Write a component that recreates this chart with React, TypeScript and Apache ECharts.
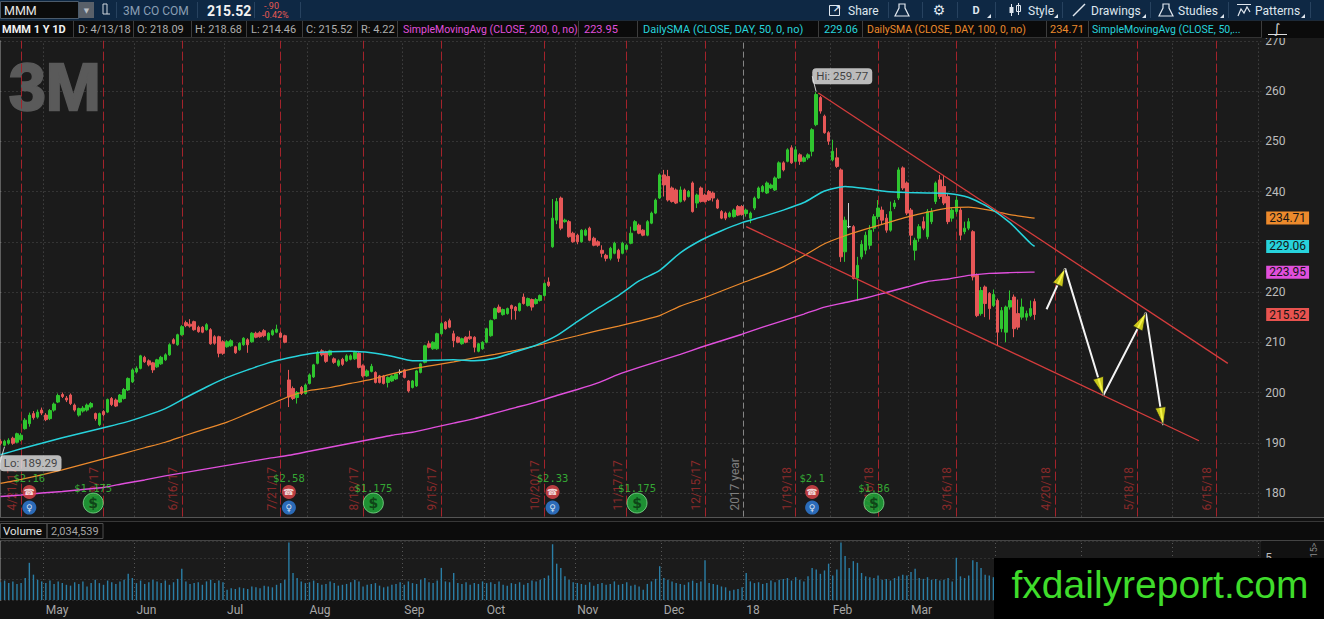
import React, { useEffect, useRef } from "react";
import * as echarts from "echarts";

// ---------- calendar (trading days) ----------
const FIRST_DAY = "2017-04-13";
const DAY_COUNT = 307;
const HOLIDAYS = ["2017-04-14", "2017-05-29", "2017-07-04", "2017-09-04", "2017-11-23", "2017-12-25", "2018-01-01", "2018-01-15", "2018-02-19", "2018-03-30", "2018-05-28"];
const MONTH_NAMES = ["Jan", "Feb", "Mar", "Apr", "May", "Jun", "Jul", "Aug", "Sep", "Oct", "Nov", "Dec"];

// ---------- daily candles [open, close, low, high] ----------
const apr17 = [
  [190.3, 189.9, 189.5, 190.7], [189.5, 190.3, 189.29, 190.6], [189.9, 190.5, 189.6, 190.9], [190.9, 189.9, 189.6, 191.2],
  [190.1, 191.8, 189.9, 192.0], [190.6, 191.5, 190.3, 191.9], [192.8, 194.5, 192.6, 194.9], [193.8, 195.5, 193.2, 196.0],
  [195.8, 195.0, 194.6, 196.3], [195.1, 196.1, 194.8, 196.6], [196.5, 195.9, 195.5, 197.0],
];
const may17 = [
  [195.5, 194.6, 194.3, 195.9], [194.8, 196.4, 194.5, 196.7], [196.5, 197.7, 196.2, 198.0], [198.1, 199.4, 197.9, 199.8],
  [199.6, 199.2, 198.9, 200.0], [198.9, 198.5, 198.1, 199.3], [199.5, 197.8, 197.5, 199.8], [197.5, 196.5, 196.2, 197.8],
  [195.5, 196.8, 195.2, 197.0], [196.3, 196.9, 196.0, 197.3], [196.5, 197.5, 196.2, 197.8], [197.1, 197.8, 196.8, 198.1],
  [195.8, 194.8, 194.4, 196.0], [193.6, 195.8, 193.3, 196.0], [196.2, 195.6, 195.3, 196.5], [196.1, 198.6, 195.9, 198.8],
  [198.8, 197.6, 197.3, 199.1], [198.5, 197.3, 197.1, 198.8], [198.1, 199.5, 197.9, 199.7], [198.8, 200.6, 198.6, 200.9],
  [200.5, 202.8, 200.3, 203.0], [202.1, 204.5, 201.9, 204.8],
];
const jun17 = [
  [204.1, 204.8, 203.8, 205.2], [204.8, 207.3, 204.6, 207.5], [207.0, 206.1, 205.9, 207.3], [206.3, 205.5, 205.2, 206.6],
  [205.9, 204.5, 203.9, 206.1], [205.1, 206.5, 204.9, 206.7], [205.7, 207.0, 205.5, 207.3], [206.5, 207.5, 206.3, 207.8],
  [207.5, 209.5, 207.3, 209.8], [210.5, 209.8, 209.6, 210.8], [209.5, 211.5, 209.3, 211.7], [211.5, 213.1, 211.3, 213.4],
  [213.9, 213.3, 213.0, 214.3], [213.6, 213.2, 212.9, 214.6], [214.1, 212.5, 212.3, 214.3], [213.0, 212.1, 211.9, 213.3],
  [213.0, 212.0, 211.8, 213.2], [212.5, 213.5, 212.3, 213.8], [212.5, 209.7, 209.5, 212.8], [211.1, 209.8, 209.5, 211.4],
  [211.1, 207.8, 207.0, 211.3], [210.1, 207.8, 207.5, 210.4],
];
const jul17 = [
  [209.1, 210.1, 208.9, 210.4], [209.3, 210.3, 209.1, 210.6], [209.1, 207.9, 207.7, 209.3], [208.5, 209.8, 208.3, 210.0],
  [209.5, 210.8, 209.3, 211.0], [210.5, 209.5, 207.9, 210.8], [210.1, 211.8, 209.9, 212.0], [211.8, 211.0, 210.8, 212.1],
  [211.9, 211.1, 210.9, 212.2], [212.3, 211.3, 211.0, 212.6], [210.5, 211.8, 210.3, 212.0], [211.5, 212.3, 211.3, 212.6],
  [212.0, 212.6, 211.8, 213.5], [211.8, 211.0, 210.8, 212.1], [211.3, 210.0, 209.8, 211.5], [202.5, 199.1, 197.1, 204.5],
  [200.8, 198.8, 198.5, 201.2], [199.0, 200.0, 197.8, 200.3], [201.0, 199.8, 199.5, 201.3], [199.8, 201.5, 199.6, 201.8],
];
const aug17 = [
  [201.8, 203.5, 201.6, 203.8], [203.1, 205.5, 202.9, 205.7], [205.8, 208.0, 205.6, 208.3], [208.3, 207.5, 207.2, 208.6],
  [208.1, 206.2, 205.9, 208.3], [207.5, 208.3, 207.2, 208.5], [206.7, 206.0, 205.7, 207.0], [205.4, 206.3, 205.1, 206.6],
  [206.6, 205.6, 205.3, 206.9], [206.3, 207.3, 206.1, 207.6], [206.6, 207.3, 206.4, 207.6], [206.7, 208.0, 206.5, 208.3],
  [207.8, 205.0, 204.8, 208.0], [205.3, 203.3, 203.0, 205.6], [203.3, 204.3, 203.1, 204.6], [204.2, 205.2, 204.0, 205.7],
  [204.0, 202.0, 201.8, 204.2], [203.3, 202.0, 201.8, 203.5], [203.3, 201.8, 201.6, 203.5], [202.0, 203.0, 201.0, 203.2],
  [202.3, 203.3, 202.1, 203.5], [202.7, 203.7, 202.5, 203.9], [204.0, 204.0, 203.6, 204.6],
];
const sep17 = [
  [204.5, 203.0, 202.8, 204.7], [202.3, 200.3, 200.0, 202.5], [201.0, 202.3, 200.8, 202.5], [201.3, 204.3, 201.1, 204.5],
  [204.0, 205.7, 203.8, 205.9], [206.0, 209.3, 205.8, 209.5], [209.7, 209.0, 208.8, 210.3], [208.7, 210.0, 208.5, 210.2],
  [208.7, 211.7, 208.5, 211.9], [211.7, 213.7, 211.5, 214.0], [214.0, 212.7, 212.5, 214.2], [214.3, 213.0, 212.8, 214.7],
  [211.7, 210.3, 209.0, 212.3], [211.0, 210.0, 209.8, 211.2], [209.7, 210.7, 209.5, 210.9], [211.0, 210.0, 209.8, 211.2],
  [211.1, 210.7, 210.5, 212.3], [211.0, 209.0, 208.0, 211.2], [208.2, 209.7, 208.0, 209.9], [208.7, 210.0, 208.5, 210.2],
];
const oct17 = [
  [210.0, 212.7, 209.8, 212.9], [211.3, 214.3, 211.1, 214.5], [214.7, 216.7, 214.5, 216.9], [217.0, 216.0, 215.8, 217.5],
  [215.5, 216.5, 215.3, 216.7], [215.7, 216.7, 215.5, 216.9], [217.3, 216.7, 214.5, 217.5], [217.0, 216.3, 214.5, 217.2],
  [216.3, 217.7, 216.1, 217.9], [219.0, 217.7, 217.5, 219.7], [217.3, 218.7, 217.1, 218.9], [218.5, 217.0, 216.3, 218.7],
  [217.7, 218.5, 217.5, 218.8], [218.3, 219.3, 218.1, 219.5], [219.3, 221.7, 219.1, 221.9], [222.0, 221.3, 221.0, 222.9],
  [229.0, 234.7, 228.8, 238.5], [234.3, 238.0, 233.5, 238.7], [238.7, 232.7, 232.3, 239.0], [234.0, 234.3, 233.8, 234.6],
  [234.0, 231.0, 230.8, 234.3], [231.7, 230.0, 229.8, 232.0],
];
const nov17 = [
  [231.3, 230.0, 229.5, 231.6], [230.0, 232.3, 229.8, 232.5], [231.3, 232.3, 231.1, 232.6], [232.7, 230.3, 230.1, 233.0],
  [230.7, 229.3, 229.1, 231.0], [230.0, 229.3, 229.0, 230.3], [228.3, 227.7, 226.9, 229.3], [227.3, 226.7, 226.1, 227.6],
  [226.7, 228.7, 226.3, 229.0], [227.7, 229.7, 227.5, 230.0], [228.3, 226.7, 226.0, 228.6], [227.7, 229.7, 227.5, 230.0],
  [228.5, 229.3, 228.3, 229.6], [229.7, 231.7, 229.5, 233.0], [232.3, 234.0, 232.1, 234.3], [233.3, 231.7, 231.5, 233.6],
  [232.3, 231.3, 231.1, 232.5], [231.3, 234.0, 231.1, 234.3], [233.7, 235.7, 233.5, 236.0], [235.7, 238.3, 235.5, 238.6],
  [238.7, 243.3, 238.5, 243.6],
];
const dec17 = [
  [243.3, 241.3, 239.0, 244.3], [243.0, 238.3, 238.0, 244.3], [240.7, 238.0, 237.8, 241.0], [240.3, 237.7, 237.5, 240.6],
  [238.0, 240.3, 237.8, 241.0], [240.3, 238.3, 238.0, 240.6], [239.0, 240.0, 238.8, 240.3], [241.7, 236.0, 235.8, 242.0],
  [237.7, 239.3, 236.7, 239.6], [240.7, 238.0, 237.8, 241.0], [239.3, 238.0, 237.8, 239.6], [240.0, 238.3, 238.1, 240.3],
  [239.7, 238.7, 238.0, 240.0], [238.3, 236.7, 236.5, 238.6], [236.0, 234.7, 234.5, 236.3], [235.7, 234.7, 234.3, 236.0],
  [235.0, 235.7, 234.8, 236.0], [235.0, 236.3, 234.8, 236.6], [237.0, 235.3, 235.1, 237.3], [237.0, 235.4, 235.2, 237.3],
];
const jan18 = [
  [235.6, 236.3, 235.0, 236.6], [234.7, 235.7, 233.7, 236.0], [236.7, 238.7, 236.3, 239.0], [238.7, 240.7, 238.5, 241.0],
  [240.0, 241.0, 239.8, 241.3], [239.7, 241.7, 239.5, 242.0], [240.7, 241.3, 240.5, 241.6], [240.3, 242.7, 240.1, 243.0],
  [242.7, 245.7, 242.5, 246.0], [245.7, 244.3, 244.0, 246.0], [246.0, 248.3, 245.8, 248.6], [248.7, 245.7, 245.5, 249.2],
  [246.0, 248.3, 245.8, 249.0], [247.3, 246.0, 245.3, 247.6], [246.0, 246.7, 245.8, 247.0], [246.7, 247.3, 246.3, 247.6],
  [248.0, 252.3, 247.0, 252.6], [253.3, 259.3, 253.0, 259.77], [258.7, 256.0, 255.5, 259.0], [255.0, 251.7, 251.5, 255.3],
  [251.7, 250.0, 249.3, 252.0],
];
const feb18 = [
  [246.3, 248.0, 246.0, 250.3], [246.7, 245.0, 244.7, 248.7], [244.3, 227.0, 226.0, 244.6], [228.0, 234.3, 226.0, 235.0],
  [233.0, 233.0, 232.7, 237.7], [233.0, 222.7, 222.5, 233.3], [222.8, 225.3, 218.2, 227.0], [227.0, 229.5, 226.5, 230.3],
  [228.3, 231.3, 227.5, 232.0], [229.3, 232.3, 228.5, 233.3], [232.7, 235.0, 232.0, 235.5], [235.0, 236.7, 234.5, 238.3],
  [236.3, 234.3, 233.5, 237.0], [234.7, 232.3, 231.8, 235.5], [232.3, 236.0, 232.0, 238.0], [237.0, 237.7, 236.5, 238.3],
  [238.7, 244.3, 238.3, 244.8], [244.7, 240.7, 240.3, 245.0], [241.7, 235.7, 235.3, 242.0],
];
const mar18 = [
  [236.3, 231.3, 229.3, 236.7], [228.3, 230.3, 226.3, 230.8], [230.7, 233.0, 230.0, 233.5], [234.0, 232.7, 232.3, 235.0],
  [231.0, 236.0, 230.5, 236.5], [234.0, 236.0, 233.5, 236.7], [238.0, 241.7, 237.5, 242.0], [242.3, 239.0, 238.5, 243.3],
  [241.0, 237.7, 237.3, 243.3], [239.0, 234.0, 233.5, 239.5], [234.7, 236.3, 234.0, 236.7], [236.0, 238.3, 235.5, 239.0],
  [236.3, 231.3, 230.3, 236.7], [232.0, 232.7, 231.5, 234.0], [232.7, 234.0, 232.3, 234.7], [232.0, 223.0, 222.3, 232.3],
  [223.3, 215.3, 215.0, 223.7], [215.7, 220.3, 215.3, 221.0], [221.0, 217.7, 215.0, 221.3], [219.7, 216.7, 214.5, 220.0],
  [217.3, 219.5, 217.0, 220.5],
];
const apr18 = [
  [218.3, 212.0, 209.3, 218.7], [212.7, 216.3, 212.0, 217.0], [212.0, 217.0, 210.0, 217.3], [217.0, 218.3, 216.5, 220.3],
  [219.0, 212.7, 211.0, 219.5], [215.7, 213.0, 212.5, 218.5], [215.0, 217.0, 214.5, 218.7], [215.0, 215.7, 214.3, 216.3],
  [215.3, 216.7, 215.0, 218.3], [218.09, 215.52, 214.46, 218.68],
];

// ---------- daily volume (millions of shares) ----------
const volApr17 = [2.1, 2.3, 2.0, 2.2, 1.9, 2.0, 2.6, 4.4, 3.0, 2.4, 2.2];
const volMay17 = [2.0, 2.3, 1.9, 2.2, 2.0, 1.8, 1.7, 2.1, 1.9, 2.2, 1.6, 2.0, 2.4, 2.0, 1.8, 2.3, 2.1, 1.9, 2.2, 2.4, 3.1, 2.6];
const volJun17 = [2.0, 2.3, 1.9, 2.1, 2.4, 2.2, 2.0, 2.3, 1.8, 2.1, 2.5, 3.7, 2.2, 1.9, 2.0, 2.1, 1.8, 2.2, 2.4, 2.0, 2.3, 2.1];
const volJul17 = [1.2, 1.4, 1.3, 1.5, 1.4, 1.3, 1.6, 1.5, 1.4, 1.7, 1.6, 1.5, 1.8, 2.0, 2.4, 6.8, 3.2, 2.6, 2.2, 2.0];
const volAug17 = [2.1, 2.3, 2.0, 1.8, 1.9, 2.2, 2.0, 1.7, 1.8, 1.9, 2.1, 2.4, 2.2, 1.6, 1.8, 1.9, 2.0, 1.7, 1.5, 1.6, 1.8, 1.9, 2.1];
const volSep17 = [1.8, 2.2, 2.0, 1.9, 2.4, 2.6, 2.1, 2.0, 2.3, 3.8, 2.2, 2.1, 3.2, 2.0, 1.9, 2.1, 1.8, 2.0, 1.9, 2.2];
const volOct17 = [2.0, 2.1, 1.9, 2.2, 1.8, 1.7, 2.0, 1.9, 2.1, 1.8, 2.0, 2.3, 2.2, 2.4, 2.6, 2.9, 6.6, 4.3, 3.8, 2.8, 2.4, 2.1];
const volNov17 = [2.0, 1.9, 1.8, 2.1, 1.7, 1.9, 2.0, 1.8, 1.9, 2.2, 1.8, 1.9, 2.1, 1.7, 1.8, 1.6, 1.2, 1.9, 2.2, 2.5, 4.0];
const volDec17 = [2.6, 2.4, 2.2, 2.0, 1.9, 1.8, 2.1, 2.3, 2.0, 2.2, 4.7, 2.0, 1.9, 1.8, 1.6, 1.5, 1.1, 1.2, 1.3, 1.5];
const volJan18 = [3.2, 2.2, 2.0, 2.1, 1.9, 2.0, 2.3, 2.1, 2.4, 2.5, 2.6, 2.3, 2.7, 2.4, 2.2, 2.8, 3.8, 3.6, 3.1, 3.5, 4.3];
const volFeb18 = [2.9, 3.6, 6.8, 5.2, 3.8, 4.6, 4.4, 3.2, 2.8, 2.7, 2.6, 2.9, 2.4, 2.5, 2.3, 2.6, 2.8, 3.0, 2.9];
const volMar18 = [3.3, 3.7, 2.6, 2.5, 2.7, 2.4, 2.5, 2.3, 2.4, 2.6, 2.2, 5.0, 2.8, 2.6, 2.9, 4.7, 4.5, 3.8, 3.0, 2.9, 2.7];
const volApr18 = [3.1, 2.9, 3.2, 2.6, 2.8, 2.5, 2.4, 2.2, 2.1, 2.03];

// ---------- moving averages, read every 5 sessions (session index) ----------
const maIdx = [0, 5, 10, 15, 20, 25, 30, 35, 40, 45, 50, 55, 60, 65, 70, 75, 80, 85, 90, 95, 100, 105, 110, 115, 120, 125, 130, 135, 140, 145, 150, 155, 160, 165, 170, 175, 180, 185, 190, 195, 200, 205, 210, 215, 220, 225, 230, 235, 240, 245, 250, 251];
const sma50 = [187.6, 188.8, 189.9, 191.0, 192.0, 193.0, 194.0, 195.3, 196.8, 199.0, 201.1, 203.0, 204.5, 205.9, 206.9, 207.7, 208.1, 208.2, 207.9, 207.2, 206.3, 206.4, 206.5, 206.3, 206.8, 208.1, 209.4, 211.3, 214.1, 216.8, 219.3, 222.2, 224.3, 227.8, 230.3, 232.2, 233.8, 235.0, 236.3, 237.8, 240.1, 241.0, 240.6, 240.0, 239.8, 239.7, 239.6, 238.8, 236.8, 233.8, 229.7, 229.06];
const sma100 = [181.9, 182.7, 183.6, 184.6, 185.7, 186.8, 187.9, 189.0, 190.1, 191.5, 192.8, 194.1, 195.8, 197.5, 199.2, 200.4, 201.0, 201.8, 202.6, 203.7, 204.7, 205.4, 206.1, 206.9, 207.6, 208.4, 209.3, 210.3, 211.3, 212.3, 213.2, 214.2, 215.3, 217.2, 218.6, 220.2, 221.8, 223.3, 225.0, 227.2, 229.6, 231.2, 232.5, 233.7, 234.9, 235.9, 236.7, 236.9, 236.3, 235.4, 234.8, 234.71];
const sma200 = [179.3, 179.6, 180.0, 180.3, 180.7, 181.1, 181.9, 182.6, 183.4, 184.1, 184.8, 185.5, 186.2, 186.9, 187.5, 188.3, 189.1, 189.9, 190.7, 191.5, 192.1, 193.0, 193.9, 194.8, 195.9, 197.0, 198.1, 199.4, 200.6, 201.9, 203.6, 205.0, 206.3, 207.6, 209.0, 210.3, 211.6, 213.0, 214.3, 215.6, 217.0, 217.9, 218.8, 219.9, 221.0, 222.1, 222.6, 223.3, 223.7, 223.85, 223.95, 223.95];

// ---------- events ----------
const expiryDates = ["2017-04-21", "2017-05-19", "2017-06-16", "2017-07-21", "2017-08-18", "2017-09-15", "2017-10-20", "2017-11-17", "2017-12-15", "2018-01-19", "2018-02-16", "2018-03-16", "2018-04-20", "2018-05-18", "2018-06-15"];
const earningsDates = ["2017-04-25", "2017-07-25", "2017-10-24", "2018-01-25"];
const earningsEps = ["$2.16", "$2.58", "$2.33", "$2.1"];
const dividendPos = [22.5, 90.5, 154.5, 212];
const dividendAmt = ["$1.175", "$1.175", "$1.175", "$1.36"];

// ---------- drawings (session index, price) ----------
const upperChannel = [[198.5, 259.6], [297.9, 205.8]];
const lowerChannel = [[181, 233.0], [290.9, 190.4]];
const arrowPath = [[253.9, 216.56], [258.4, 224.7], [267.7, 199.5], [278.0, 215.9], [282.2, 193.5]];
const arrowHeads = [[257.48, 223.05, -24.2], [267.04, 201.21, -163.2], [277.02, 214.29, -27.4], [281.9, 195.3, -171.2]];

// price-axis ticks that the value tags cover in the reference
const hiddenPriceTicks = [170, 230];

const BG = "#1b1b1b";
const GREEN = "#2fc52f";
const RED = "#e65757";
const MAGENTA = "#e04fdc";
const CYAN = "#27d3dc";
const ORANGE = "#ec8a2c";

function tradingDays(): string[] {
  const out: string[] = [];
  const d = new Date(FIRST_DAY + "T12:00:00Z");
  while (out.length < DAY_COUNT) {
    const wd = d.getUTCDay();
    const s = d.toISOString().slice(0, 10);
    if (wd !== 0 && wd !== 6 && !HOLIDAYS.includes(s)) out.push(s);
    d.setUTCDate(d.getUTCDate() + 1);
  }
  return out;
}

function txt(x: number, y: number, text: string, fill: string, font: string, align = "left", z = 21, extra: any = {}) {
  return {
    type: "text", x, y, z, silent: true,
    style: { text, fill, font, textAlign: align, align, textVerticalAlign: "middle", verticalAlign: "middle", ...extra },
  };
}
function rect(x: number, y: number, w: number, h: number, style: any, z = 21) {
  return { type: "rect", z, silent: true, shape: { x, y, width: w, height: h }, style };
}
function ln(x1: number, y1: number, x2: number, y2: number, stroke: string, z = 21, lw = 1) {
  return { type: "line", z, silent: true, shape: { x1, y1, x2, y2 }, style: { stroke, lineWidth: lw } };
}
function tri(x: number, y: number, z = 22) {
  return { type: "polygon", z, silent: true, shape: { points: [[x - 4, y], [x, y], [x, y - 4]] }, style: { fill: "#dfe6ee" } };
}

function buildOption() {
  const dates = tradingDays();
  const idxOf = (d: string) => dates.indexOf(d);
  const candles = [...apr17, ...may17, ...jun17, ...jul17, ...aug17, ...sep17, ...oct17, ...nov17, ...dec17, ...jan18, ...feb18, ...mar18, ...apr18];
  const volumes = [...volApr17, ...volMay17, ...volJun17, ...volJul17, ...volAug17, ...volSep17, ...volOct17, ...volNov17, ...volDec17, ...volJan18, ...volFeb18, ...volMar18, ...volApr18];
  const last = candles[candles.length - 1];
  const hi = Math.max(...candles.map((c) => c[3]));
  const lo = Math.min(...candles.map((c) => c[2]));
  const hiIdx = candles.findIndex((c) => c[3] === hi);
  const loIdx = candles.findIndex((c) => c[2] === lo);

  const monthStarts: number[] = [];
  for (let i = 1; i < dates.length; i++) if (dates[i].slice(5, 7) !== dates[i - 1].slice(5, 7)) monthStarts.push(i);
  const monthSet = new Set(monthStarts);
  const fmtMonth = (v: string) => (v.slice(5, 7) === "01" ? v.slice(2, 4) : MONTH_NAMES[+v.slice(5, 7) - 1]);

  const LB = 175.3, LT = 270;
  const monthLines = monthStarts.map((i) => {
    const isYear = dates[i].slice(5, 7) === "01";
    return [
      {
        coord: [i - 0.6, LB],
        lineStyle: isYear ? { color: "#858585", type: [6, 3], width: 1 } : { color: "#555555", type: [1, 3], width: 1 },
        label: isYear
          ? { show: true, position: "insideStartTop", formatter: `${+dates[i].slice(0, 4) - 1} year`, color: "#7e7e7e", fontSize: 12, fontFamily: "Roboto", distance: [6, 3] }
          : { show: false },
      },
      { coord: [i - 0.6, LT] },
    ];
  });
  const expLines = expiryDates.map((d) => {
    const i = idxOf(d);
    const lab = `${+d.slice(5, 7)}/${+d.slice(8, 10)}/${d.slice(2, 4)}`;
    return [
      {
        coord: [i, LB],
        lineStyle: { color: "#a3232b", type: [9, 3], width: 1 },
        label: { show: true, position: "insideStartTop", formatter: lab, color: "#8a2a2a", fontSize: 12, fontFamily: "Roboto", distance: [6, 3] },
      },
      { coord: [i, LT] },
    ];
  });
  const volMonthLines = monthStarts.map((i) => [
    { coord: [i - 0.6, 0], lineStyle: { color: "#555555", type: [1, 3], width: 1 } },
    { coord: [i - 0.6, 6.9] },
  ]);

  const tag = (value: number, bg: string) => ({
    symbol: "none", silent: true, z: 6, animation: false,
    lineStyle: { width: 0, color: "rgba(0,0,0,0)" },
    data: [{ yAxis: value }],
    label: { show: true, position: "end", formatter: value.toFixed(2), color: "#151515", backgroundColor: bg, padding: [1, 3, 0, 3], fontSize: 12, fontFamily: "Roboto", distance: 5 },
  });

  const maLine = (vals: number[], color: string, width: number, z: number) => ({
    type: "line", xAxisIndex: 1, yAxisIndex: 0, z, silent: true, symbol: "none", smooth: 0.2,
    data: maIdx.map((i, k) => [i, vals[k]]),
    lineStyle: { color, width },
    markLine: tag(vals[vals.length - 1], color),
  });

  const hidden = { color: "rgba(0,0,0,0)" };

  // ---------------- graphics ----------------
  const g: any[] = [];
  // 3M logo watermark
  g.push(txt(9, 87, "3M", "#5a5a5a", 'bold 66px "Liberation Sans"', "left", 1, { stroke: "#5a5a5a", lineWidth: 2.5 }));
  // volume panel
  g.push(rect(0, 517, 1324, 102, { fill: "#111111" }, 5));
  g.push(ln(0, 517.5, 1324, 517.5, "#555555", 6));
  g.push(ln(0, 521.5, 1324, 521.5, "#383838", 6));
  g.push(rect(0, 522, 1324, 18, { fill: "#0c0c0c" }, 6));
  g.push(rect(0.5, 523.5, 46.5, 15, { fill: "none", stroke: "#4d4d4d", lineWidth: 1 }, 7));
  g.push(txt(3, 531, "Volume", "#e0e0e0", "11.5px Roboto", "left", 7));
  g.push(rect(47, 523.5, 56, 15, { fill: "none", stroke: "#4d4d4d", lineWidth: 1 }, 7));
  g.push(txt(51, 531, "2,034,539", "#a5a5a5", "11px Roboto", "left", 7));
  g.push(ln(0, 540.5, 1324, 540.5, "#444444", 7));
  g.push(rect(0, 541, 1261, 59, { fill: "#1b1b1b" }, 6));
  g.push(rect(0, 601, 1324, 18, { fill: "#131313" }, 6));
  const rot = txt(1314, 550, "15>", "#8a8a8a", "9px Roboto", "center", 7, {});
  (rot as any).rotation = Math.PI / 2;
  g.push(rot);
  // watermark
  g.push(rect(994, 558, 330, 61, { fill: "#000000" }, 30));
  g.push(txt(1160, 584, "fxdailyreport.com", "#3fdc2b", '39px "Liberation Sans"', "center", 31));

  // header row 1
  g.push(rect(0, 0, 1324, 20, { fill: "#0e2844" }, 20));
  g.push(rect(0.5, 1.5, 78, 17, { fill: "#0b0b0b", stroke: "#4b5a6a", lineWidth: 1 }));
  g.push(txt(4, 10.5, "MMM", "#e6e6e6", "12.5px Roboto"));
  g.push(rect(79, 2, 15, 16, { fill: "#596069" }));
  g.push(txt(86.5, 10.5, "▼", "#b8bec5", '7px "DejaVu Sans"', "center"));
  g.push(rect(103, 4, 4, 10, { fill: "none", stroke: "#cfd6dd", lineWidth: 1 }));
  g.push(ln(107, 14, 110, 14, "#cfd6dd"));
  for (const x of [116, 197, 254, 300, 888, 922, 957, 995, 1062, 1150, 1228, 1310]) g.push(ln(x + 0.5, 2, x + 0.5, 18, "#27425f"));
  g.push(txt(123, 10.5, "3M CO COM", "#8a9eb3", "12px Roboto"));
  g.push(txt(207, 10.5, last[1].toFixed(2), "#f2f2f2", "bold 14px Roboto"));
  g.push(txt(264, 5.5, "-.90", "#e85a52", "9px Roboto"));
  g.push(txt(262, 14.5, "-0.42%", "#e85a52", "9px Roboto"));
  // toolbar right
  g.push(rect(829.5, 5.5, 10, 10, { fill: "none", stroke: "#dfe6ee", lineWidth: 1 }));
  g.push(txt(837, 8, "↗", "#dfe6ee", 'bold 10px "DejaVu Sans"', "center"));
  g.push(txt(848, 10.5, "Share", "#dfe6ee", "12px Roboto"));
  g.push({ type: "polygon", z: 21, silent: true, shape: { points: [[899, 4], [905, 4], [905, 8], [909, 16], [895, 16], [899, 8]] }, style: { fill: "none", stroke: "#dfe6ee", lineWidth: 1.2 } });
  g.push(txt(939, 10, "⚙", "#dfe6ee", '14px "DejaVu Sans"', "center"));
  g.push(txt(976, 10.5, "D", "#dfe6ee", "bold 11px Roboto", "center"));
  g.push(tri(991, 18));
  g.push(ln(1011.5, 4, 1011.5, 16, "#dfe6ee"));
  g.push(rect(1009.5, 7, 4, 6, { fill: "#dfe6ee" }));
  g.push(ln(1018.5, 3, 1018.5, 15, "#dfe6ee"));
  g.push(rect(1016.5, 5.5, 4, 6, { fill: "none", stroke: "#dfe6ee", lineWidth: 1 }));
  g.push(txt(1028, 10.5, "Style", "#dfe6ee", "12px Roboto"));
  g.push(tri(1058, 18));
  g.push(ln(1073, 16, 1085, 4, "#dfe6ee", 21, 1.5));
  g.push(txt(1091, 10.5, "Drawings", "#dfe6ee", "12px Roboto"));
  g.push(tri(1146, 18));
  g.push({ type: "polygon", z: 21, silent: true, shape: { points: [[1163, 4], [1169, 4], [1169, 8], [1173, 16], [1159, 16], [1163, 8]] }, style: { fill: "none", stroke: "#dfe6ee", lineWidth: 1.2 } });
  g.push(txt(1178, 10.5, "Studies", "#dfe6ee", "12px Roboto"));
  g.push(tri(1224, 18));
  g.push(ln(1237, 4.5, 1251, 4.5, "#dfe6ee"));
  g.push({ type: "polyline", z: 21, silent: true, shape: { points: [[1238, 16], [1241, 9], [1244, 13], [1247, 7], [1250, 12]] }, style: { fill: "none", stroke: "#dfe6ee", lineWidth: 1.2 } });
  g.push(txt(1255, 10.5, "Patterns", "#dfe6ee", "12px Roboto"));
  g.push(tri(1305, 18));

  // header row 2
  g.push(rect(0, 20, 1324, 18, { fill: "#0b0b0b" }, 20));
  g.push(ln(0, 20.5, 1324, 20.5, "#1d2a38"));
  g.push(ln(0, 37.5, 1262, 37.5, "#333333"));
  for (const x of [73, 133, 191, 246, 302, 357, 397, 578, 637, 818, 862, 1046, 1088, 1261]) g.push(ln(x + 0.5, 21, x + 0.5, 37, "#3d3d3d"));
  const gray = "#aeaeae";
  g.push(txt(2, 29.5, "MMM 1 Y 1D", "#f2f2f2", "bold 11px Roboto"));
  g.push(txt(78, 29.5, "D: 4/13/18", gray, "11px Roboto"));
  g.push(txt(137, 29.5, `O: ${last[0].toFixed(2)}`, gray, "11px Roboto"));
  g.push(txt(195, 29.5, `H: ${last[3].toFixed(2)}`, gray, "11px Roboto"));
  g.push(txt(251, 29.5, `L: ${last[2].toFixed(2)}`, gray, "11px Roboto"));
  g.push(txt(306, 29.5, `C: ${last[1].toFixed(2)}`, gray, "11px Roboto"));
  g.push(txt(361, 29.5, "R: 4.22", gray, "11px Roboto"));
  g.push(txt(403, 29.5, "SimpleMovingAvg (CLOSE, 200, 0, no)", MAGENTA, "10.5px Roboto"));
  g.push(txt(584, 29.5, sma200[sma200.length - 1].toFixed(2), MAGENTA, "11px Roboto"));
  g.push(txt(643, 29.5, "DailySMA (CLOSE, DAY, 50, 0, no)", CYAN, "11px Roboto"));
  g.push(txt(824, 29.5, sma50[sma50.length - 1].toFixed(2), CYAN, "11px Roboto"));
  g.push(txt(867, 29.5, "DailySMA (CLOSE, DAY, 100, 0, no)", ORANGE, "10.5px Roboto"));
  g.push(txt(1050, 29.5, sma100[sma100.length - 1].toFixed(2), ORANGE, "11px Roboto"));
  g.push(txt(1092, 29.5, "SimpleMovingAvg (CLOSE, 50,...", CYAN, "10.5px Roboto"));
  g.push(ln(1268, 34.5, 1287, 34.5, "#dddddd"));
  g.push(txt(1277, 28, "∫", "#dddddd", '13px "DejaVu Sans"', "center"));

  return {
    animation: false,
    backgroundColor: BG,
    textStyle: { fontFamily: "Roboto" },
    grid: [
      { left: 0.5, right: 62.8, top: 40.75, height: 502.5, outerBoundsMode: "none" },
      { left: 0.5, right: 62.8, top: 541.7, height: 58.3, outerBoundsMode: "none" },
    ],
    xAxis: [
      { type: "category", gridIndex: 0, data: dates, boundaryGap: false, show: false },
      { type: "value", gridIndex: 0, min: 0, max: DAY_COUNT - 1, show: false },
      {
        type: "category", gridIndex: 1, data: dates, boundaryGap: false, z: 10,
        axisLine: { show: false }, axisTick: { show: false }, splitLine: { show: false },
        axisLabel: { interval: (i: number) => monthSet.has(i), formatter: fmtMonth, color: "#a6a6a6", fontSize: 12, fontFamily: "Roboto", align: "left", margin: 4 },
      },
      { type: "value", gridIndex: 1, min: 0, max: DAY_COUNT - 1, show: false },
    ],
    yAxis: [
      {
        type: "value", gridIndex: 0, position: "right", min: 170, max: 270, interval: 10,
        axisLine: { show: true, lineStyle: { color: "#5f5f5f" } },
        axisTick: { show: true, inside: true, length: 4, lineStyle: { color: "#8a8a8a" } },
        axisLabel: { color: "#bdbdbd", fontSize: 12, fontFamily: "Roboto", margin: 4, formatter: (v: number) => (hiddenPriceTicks.includes(v) ? "" : String(v)) },
        splitLine: { show: true, lineStyle: { color: "#4e4e4e", type: [1, 3], width: 1 } },
      },
      {
        type: "value", gridIndex: 1, position: "right", min: 0, max: 6.9, interval: 2.5, z: 10,
        axisLine: { show: true, lineStyle: { color: "#5f5f5f" } },
        axisTick: { show: true, inside: true, length: 4, lineStyle: { color: "#8a8a8a" } },
        axisLabel: { color: "#bdbdbd", fontSize: 12, fontFamily: "Roboto", margin: 4, formatter: (v: number) => (v === 5 ? "5" : "") },
        splitLine: { show: true, lineStyle: { color: "#464646", type: [1, 3], width: 1 } },
      },
    ],
    graphic: { elements: g },
    series: [
      {
        type: "line", xAxisIndex: 1, yAxisIndex: 0, z: 1, silent: true, symbol: "none", data: [[0, 170]], lineStyle: { width: 0 },
        markLine: { symbol: ["none", "none"], silent: true, z: 1, animation: false, data: [...monthLines, ...expLines] },
      },
      {
        type: "candlestick", xAxisIndex: 0, yAxisIndex: 0, z: 2, silent: true, barWidth: 3,
        data: candles,
        itemStyle: { color: GREEN, color0: RED, borderColor: GREEN, borderColor0: RED, borderColorDoji: "#cfcfcf", borderWidth: 1 },
        markLine: tag(last[1], "#e8534f"),
      },
      maLine(sma200, MAGENTA, 1.4, 3),
      maLine(sma100, ORANGE, 1.2, 3),
      maLine(sma50, CYAN, 1.5, 3),
      { type: "line", xAxisIndex: 1, yAxisIndex: 0, z: 4, silent: true, symbol: "none", data: upperChannel, lineStyle: { color: "#d43c3c", width: 1.3 } },
      { type: "line", xAxisIndex: 1, yAxisIndex: 0, z: 4, silent: true, symbol: "none", data: lowerChannel, lineStyle: { color: "#d43c3c", width: 1.3 } },
      { type: "line", xAxisIndex: 1, yAxisIndex: 0, z: 5, silent: true, symbol: "none", data: arrowPath, lineStyle: { color: "#f4f4f4", width: 2 } },
      {
        type: "scatter", xAxisIndex: 1, yAxisIndex: 0, z: 6, silent: true, symbol: "triangle", symbolSize: [11, 18],
        itemStyle: { color: "#f4f21c", borderColor: "#1a1a1a", borderWidth: 1 },
        data: arrowHeads.map(([i, v, r]) => ({ value: [i, v], symbolRotate: r })),
      },
      {
        type: "scatter", xAxisIndex: 1, yAxisIndex: 0, z: 4, silent: true, symbol: "circle", symbolSize: 14,
        itemStyle: { color: "#e2464b" },
        label: { show: true, position: "inside", formatter: "☎", color: "#ffffff", fontSize: 9, fontFamily: "DejaVu Sans" },
        data: earningsDates.map((d) => [idxOf(d), 180.2]),
      },
      {
        type: "scatter", xAxisIndex: 1, yAxisIndex: 0, z: 4, silent: true, symbol: "circle", symbolSize: 14,
        itemStyle: { color: "#2f7fe0" },
        label: { show: true, position: "inside", formatter: "♀", color: "#ffffff", fontSize: 9, fontFamily: "DejaVu Sans" },
        data: earningsDates.map((d) => [idxOf(d), 177.1]),
      },
      {
        type: "scatter", xAxisIndex: 1, yAxisIndex: 0, z: 4, silent: true, symbol: "circle", symbolSize: 20,
        itemStyle: { color: "#1fae3a", borderColor: "#7fe08f", borderWidth: 1 },
        label: { show: true, position: "inside", formatter: "$", color: "#0b2f10", fontSize: 14, fontWeight: "bold", fontFamily: "DejaVu Sans" },
        data: dividendPos.map((i) => [i, 178.0]),
      },
      {
        type: "scatter", xAxisIndex: 1, yAxisIndex: 0, z: 4, silent: true, symbolSize: 1, itemStyle: hidden,
        label: { show: true, position: "inside", formatter: "{b}", color: "#3ccc3c", fontSize: 10.5, fontFamily: "DejaVu Sans Mono" },
        data: [
          ...earningsDates.map((d, k) => ({ value: [idxOf(d), 183.0], name: earningsEps[k] })),
          ...dividendPos.map((i, k) => ({ value: [i, 181.0], name: dividendAmt[k] })),
        ],
      },
      {
        type: "scatter", xAxisIndex: 1, yAxisIndex: 0, z: 7, silent: true, symbolSize: 1, itemStyle: hidden,
        label: { show: true, position: "inside", formatter: "{b}", color: "#1e1e1e", backgroundColor: "#e4e4e4", padding: [2, 4], borderRadius: 4, fontSize: 11.5, fontFamily: "Roboto" },
        labelLayout: (p: any) => (p.dataIndex === 0 ? { dx: 26, dy: -16 } : { dx: 26, dy: 17 }),
        labelLine: { show: true, lineStyle: { color: "#d0d0d0", width: 1 } },
        data: [
          { value: [hiIdx, hi], name: `Hi: ${hi.toFixed(2)}` },
          { value: [loIdx, lo], name: `Lo: ${lo.toFixed(2)}` },
        ],
      },
      {
        type: "bar", xAxisIndex: 2, yAxisIndex: 1, z: 10, silent: true, barWidth: 1.4,
        data: volumes, itemStyle: { color: "#2a7ea6" },
      },
      {
        type: "line", xAxisIndex: 3, yAxisIndex: 1, z: 10, silent: true, symbol: "none", data: [[0, 0]], lineStyle: { width: 0 },
        markLine: { symbol: ["none", "none"], silent: true, z: 10, animation: false, data: volMonthLines },
      },
    ],
  };
}

export default function App() {
  const ref = useRef<HTMLDivElement>(null);
  useEffect(() => {
    const chart = echarts.init(ref.current as HTMLDivElement, null, { renderer: "svg" });
    chart.setOption(buildOption() as any);
    return () => chart.dispose();
  }, []);
  return <div ref={ref} style={{ position: "fixed", left: 0, top: 0, width: 1324, height: 619, background: BG }} />;
}
